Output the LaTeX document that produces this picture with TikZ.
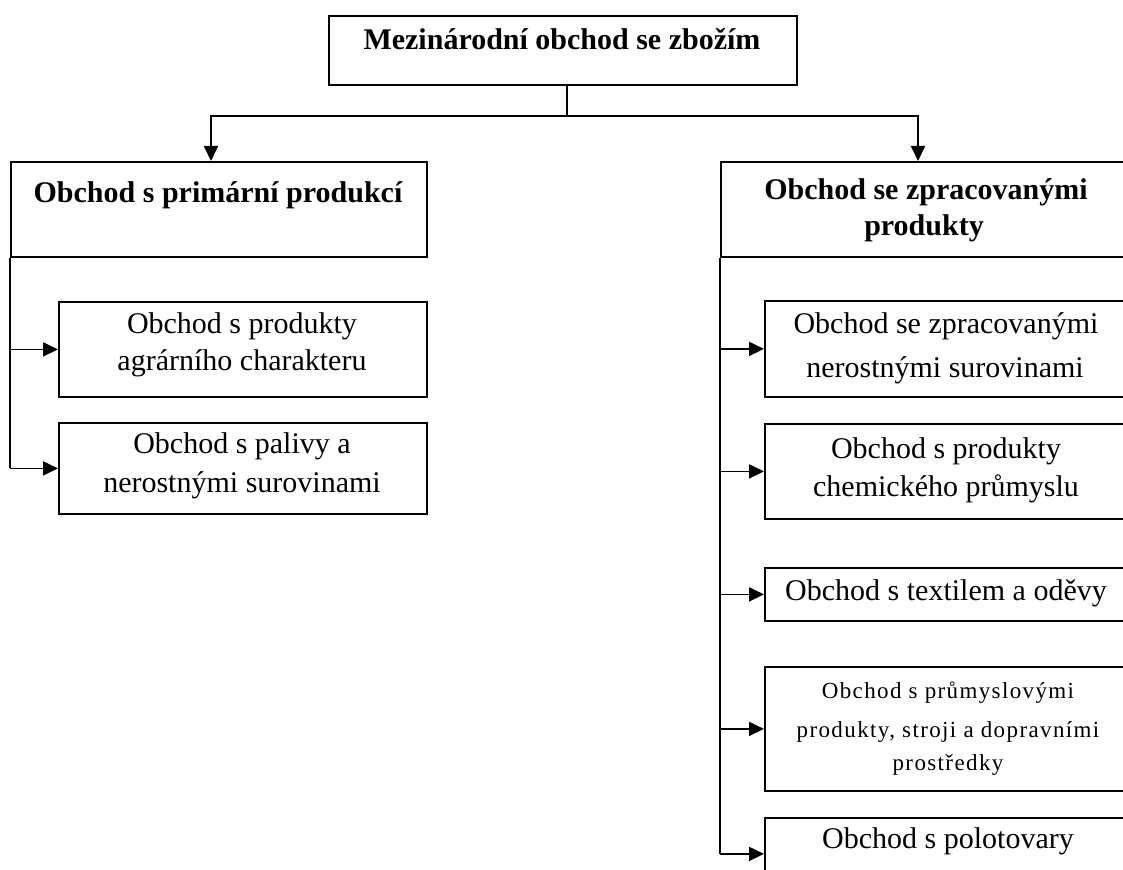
\documentclass[tikz,border=0pt]{standalone}
\usepackage{fontspec}
\setmainfont{Liberation Serif}
\newfontfamily\spacedfont[LetterSpace=6]{Liberation Serif}
\usetikzlibrary{arrows.meta}
\tikzset{
  box/.style={draw=black, line width=1.8pt, rectangle, inner sep=0pt, anchor=north west},
  conn/.style={draw=black, line width=1.8pt},
  arr/.style={conn, -{Triangle[length=15pt,width=14pt]}},
  hdr/.style={anchor=base, inner sep=0pt, font=\fontsize{30}{36}\selectfont\bfseries},
  txt/.style={anchor=base, inner sep=0pt, font=\fontsize{30}{36}\selectfont},
  small/.style={anchor=base, inner sep=0pt, font=\fontsize{23}{27}\selectfont\spacedfont},
}
\begin{document}
\begin{tikzpicture}[x=1pt,y=-1pt]
\useasboundingbox (0,0) rectangle (1123,869);
\clip (0,0) rectangle (1123,869);
\fill[white] (0,0) rectangle (1123,869);

% boxes
\node[box, minimum width=468pt, minimum height=69pt] (top) at (328,15) {};
\node[box, minimum width=416pt, minimum height=95pt] (L) at (10,161) {};
\node[box, minimum width=412pt, minimum height=95pt] (R) at (720,161) {};
\node[box, minimum width=368pt, minimum height=95pt] (L1) at (58,301) {};
\node[box, minimum width=368pt, minimum height=91pt] (L2) at (58,422) {};
\node[box, minimum width=368pt, minimum height=96pt] (R1) at (764,300) {};
\node[box, minimum width=368pt, minimum height=95pt] (R2) at (764,423) {};
\node[box, minimum width=368pt, minimum height=53pt] (R3) at (764,567) {};
\node[box, minimum width=368pt, minimum height=124pt] (R4) at (764,666) {};
\node[box, minimum width=368pt, minimum height=72pt] (R5) at (764,817) {};

% texts
\node[hdr] (tT) at (562,50) {Mezinárodní obchod se zbožím};
\node[hdr] (tL) at (218,202) {Obchod s primární produkcí};
\node[hdr] (tRa) at (926,200) {Obchod se zpracovanými};
\node[hdr] (tRb) at (924,235) {produkty};
\node[txt] (tL1a) at (242,333) {Obchod s produkty};
\node[txt] (tL1b) at (242,370) {agrárního charakteru};
\node[txt] (tL2a) at (242,453) {Obchod s palivy a};
\node[txt] (tL2b) at (242,492) {nerostnými surovinami};
\node[txt] (tR1a) at (946,333) {Obchod se zpracovanými};
\node[txt] (tR1b) at (945,377) {nerostnými surovinami};
\node[txt] (tR2a) at (946,458) {Obchod s produkty};
\node[txt] (tR2b) at (946,496) {chemického průmyslu};
\node[txt] (tR3) at (946,600) {Obchod s textilem a oděvy};
\node[small] (tR4a) at (948,698) {Obchod s průmyslovými};
\node[small] (tR4b) at (948,737) {produkty, stroji a dopravními};
\node[small] (tR4c) at (948,770) {prostředky};
\node[txt] (tR5) at (948,848) {Obchod s polotovary};

% connectors from top
\coordinate (j) at (567,116);
\coordinate (la) at (211,161);
\coordinate (ra) at (918,161);
\draw[conn] (top.south -| j) -- (j);
\draw[arr] (j) -| (la);
\draw[arr] (j) -| (ra);

% left spine
\draw[conn] (L.south west) -- (L.south west |- L2.west);
\draw[arr] (L.south west |- L1.west) -- (L1.west);
\draw[arr] (L.south west |- L2.west) -- (L2.west);

% right spine
\draw[conn] (R.south west) -- (R.south west |- R5.west);
\draw[arr] (R.south west |- R1.west) -- (R1.west);
\draw[arr] (R.south west |- R2.west) -- (R2.west);
\draw[arr] (R.south west |- R3.west) -- (R3.west);
\draw[arr] (R.south west |- R4.west) -- (R4.west);
\draw[arr] (R.south west |- R5.west) -- (R5.west);
\end{tikzpicture}
\end{document}
